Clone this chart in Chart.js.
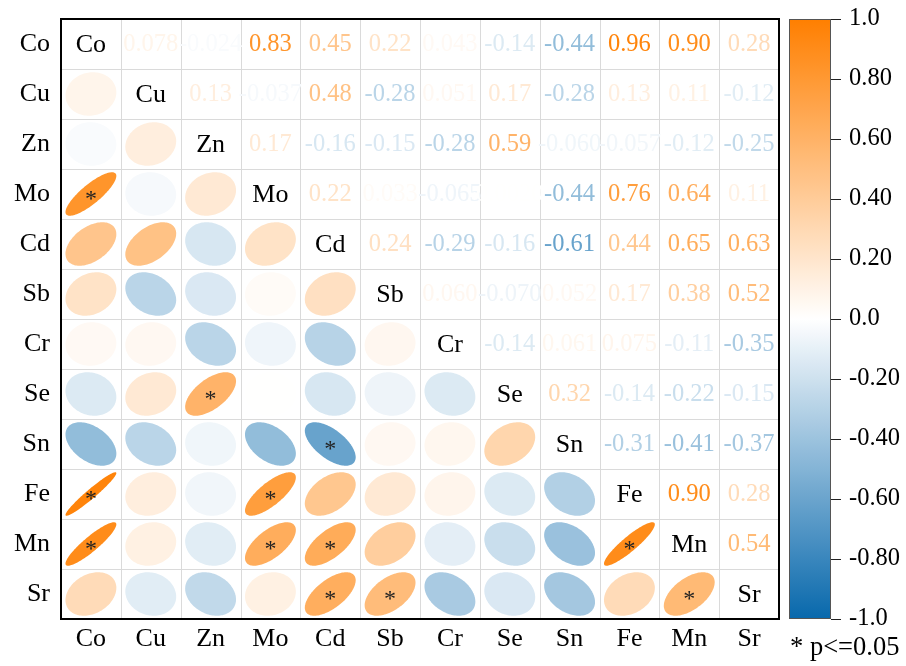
<!DOCTYPE html>
<html><head><meta charset="utf-8">
<script src="https://cdn.jsdelivr.net/npm/chart.js@4/dist/chart.umd.min.js"></script>
<style>html,body{margin:0;padding:0;background:#fff}</style>
</head><body>
<canvas id="c" width="906" height="666"></canvas>
<script>
// ---- data ----
const labels = ['Co','Cu','Zn','Mo','Cd','Sb','Cr','Se','Sn','Fe','Mn','Sr'];
// upper-triangle correlations, row by row (columns after the diagonal)
const rowCo = [0.078, -0.024, 0.83, 0.45, 0.22, 0.043, -0.14, -0.44, 0.96, 0.90, 0.28];
const rowCu = [0.13, -0.037, 0.48, -0.28, 0.051, 0.17, -0.28, 0.13, 0.11, -0.12];
const rowZn = [0.17, -0.16, -0.15, -0.28, 0.59, -0.060, -0.057, -0.12, -0.25];
const rowMo = [0.22, 0.033, -0.065, 0.002, -0.44, 0.76, 0.64, 0.11];
const rowCd = [0.24, -0.29, -0.16, -0.61, 0.44, 0.65, 0.63];
const rowSb = [0.060, -0.070, 0.052, 0.17, 0.38, 0.52];
const rowCr = [-0.14, 0.061, 0.075, -0.11, -0.35];
const rowSe = [0.32, -0.14, -0.22, -0.15];
const rowSn = [-0.31, -0.41, -0.37];
const rowFe = [0.90, 0.28];
const rowMn = [0.54];
const upperRows = [rowCo, rowCu, rowZn, rowMo, rowCd, rowSb, rowCr, rowSe, rowSn, rowFe, rowMn, []];
// significant pairs (p<=0.05)
const sigPairs = [['Mo','Co'],['Se','Zn'],['Sn','Cd'],['Fe','Co'],['Fe','Mo'],['Mn','Co'],['Mn','Mo'],['Mn','Cd'],['Mn','Fe'],['Sr','Cd'],['Sr','Sb'],['Sr','Mn']];
const colorbarTicks = [1.0, 0.8, 0.6, 0.4, 0.2, 0.0, -0.2, -0.4, -0.6, -0.8, -1.0];
const pNote = '* p<=0.05';

// ---- build datasets ----
const n = labels.length;
function corr(i, j){ if(i===j) return 1; const a=Math.min(i,j), b=Math.max(i,j); return upperRows[a][b-a-1]; }
const isSig = (i,j) => sigPairs.some(p => (labels.indexOf(p[0])===i && labels.indexOf(p[1])===j) || (labels.indexOf(p[0])===j && labels.indexOf(p[1])===i));
const upperData = [], lowerData = [], diagData = [];
for(let i=0;i<n;i++){ for(let j=0;j<n;j++){
  if(j>i) upperData.push({x:j, y:i, v:corr(i,j)});
  else if(j<i) lowerData.push({x:j, y:i, v:corr(i,j), sig:isSig(i,j)});
  else diagData.push({x:j, y:i, lab:labels[i]});
}}

const POS=[255,127,0], NEG=[8,104,172];
function colorFor(v){
  const t=Math.min(1,Math.abs(v)); const c=v>=0?POS:NEG;
  const m=k=>Math.round(255+(c[k]-255)*t);
  return `rgb(${m(0)},${m(1)},${m(2)})`;
}
function fmt(v){ return v.toPrecision(2); }
const SERIF = '"Liberation Serif", "DejaVu Serif", serif';

const corrPlugin = {
  id:'corr',
  beforeDatasetsDraw(chart){
    const {ctx, chartArea:a, scales:{x,y}} = chart;
    ctx.save(); ctx.strokeStyle='#dadada'; ctx.lineWidth=1;
    for(let k=1;k<n;k++){
      const px=Math.round(x.getPixelForValue(k-0.5))+0.5;
      ctx.beginPath(); ctx.moveTo(px,a.top); ctx.lineTo(px,a.bottom); ctx.stroke();
      const py=Math.round(y.getPixelForValue(k-0.5))+0.5;
      ctx.beginPath(); ctx.moveTo(a.left,py); ctx.lineTo(a.right,py); ctx.stroke();
    }
    ctx.restore();
  },
  afterDatasetsDraw(chart){
    const {ctx, chartArea:a, scales:{x,y,cb}} = chart;
    const cw=Math.abs(x.getPixelForValue(1)-x.getPixelForValue(0));
    const ch=Math.abs(y.getPixelForValue(1)-y.getPixelForValue(0));
    ctx.save();
    // ellipses
    const lowMeta=chart.getDatasetMeta(1);
    lowMeta.data.forEach((el,idx)=>{
      const d=lowerData[idx]; const r=Math.max(-1,Math.min(1,d.v));
      const ang=Math.acos(r); const w=cw*0.85, h=ch*0.87;
      ctx.beginPath();
      for(let s=0;s<=120;s++){
        const k=s/120*2*Math.PI;
        const px=el.x+Math.cos(k+ang/2)/2*w, py=el.y-Math.cos(k-ang/2)/2*h;
        s?ctx.lineTo(px,py):ctx.moveTo(px,py);
      }
      ctx.closePath(); ctx.fillStyle=colorFor(d.v); ctx.fill();
      if(d.sig){
        ctx.fillStyle='#222'; ctx.font='24px '+SERIF; ctx.textAlign='center'; ctx.textBaseline='middle';
        ctx.fillText('*', el.x, el.y+6);
      }
    });
    // numbers
    const upMeta=chart.getDatasetMeta(0);
    ctx.font='24.5px '+SERIF; ctx.textAlign='center'; ctx.textBaseline='middle';
    upMeta.data.forEach((el,idx)=>{
      const d=upperData[idx]; ctx.fillStyle=colorFor(d.v); ctx.fillText(fmt(d.v), el.x, el.y+1);
    });
    // diagonal labels
    const dMeta=chart.getDatasetMeta(2);
    ctx.font='26px '+SERIF; ctx.fillStyle='#000';
    dMeta.data.forEach((el,idx)=>{ ctx.fillText(diagData[idx].lab, el.x, el.y+1); });
    // border
    ctx.strokeStyle='#000'; ctx.lineWidth=2;
    ctx.strokeRect(a.left, a.top, a.right-a.left, a.bottom-a.top);
    // colorbar
    const bx0=cb.left+10, bx1=cb.left+52;
    const top=cb.getPixelForValue(1), bot=cb.getPixelForValue(-1);
    const g=ctx.createLinearGradient(0,top,0,bot);
    for(let s=0;s<=40;s++){ const v=1-s/20; g.addColorStop(s/40, colorFor(v)); }
    ctx.fillStyle=g; ctx.fillRect(bx0, top, bx1-bx0, bot-top);
    ctx.strokeStyle='#555'; ctx.lineWidth=1;
    ctx.strokeRect(bx0+0.5, top+0.5, bx1-bx0-1, bot-top-1);
    ctx.strokeStyle='#222';
    colorbarTicks.forEach(v=>{
      const py=Math.round(cb.getPixelForValue(v))+0.5;
      ctx.beginPath(); ctx.moveTo(bx1,py); ctx.lineTo(bx1+10,py); ctx.stroke();
    });
    // p note
    ctx.fillStyle='#000'; ctx.font='26.5px '+SERIF; ctx.textAlign='left'; ctx.textBaseline='alphabetic';
    ctx.fillText(pNote, 790, 655);
    ctx.restore();
  }
};

const tickFont={family:SERIF, size:26};
const noPadV = s=>{ s.paddingTop=0; s.paddingBottom=0; };
new Chart(document.getElementById('c'), {
  type:'scatter',
  data:{datasets:[
    {data:upperData, pointRadius:0, pointHoverRadius:0},
    {data:lowerData, pointRadius:0, pointHoverRadius:0},
    {data:diagData, pointRadius:0, pointHoverRadius:0}
  ]},
  options:{
    responsive:false, devicePixelRatio:1, animation:false, events:[],
    layout:{padding:{top:19,left:0,right:0,bottom:0}},
    plugins:{legend:{display:false}, tooltip:{enabled:false}},
    scales:{
      x:{type:'linear', position:'bottom', min:-0.5, max:n-0.5,
        grid:{display:false, drawTicks:false}, border:{display:false},
        afterBuildTicks:s=>{ s.ticks=labels.map((_,i)=>({value:i})); },
        afterFit:s=>{ s.height=47; s.paddingLeft=0; s.paddingRight=0; },
        ticks:{autoSkip:false, maxRotation:0, padding:5, color:'#000', font:tickFont, callback:v=>labels[v]}},
      y:{type:'linear', position:'left', reverse:true, min:-0.5, max:n-0.5,
        grid:{display:false, drawTicks:false}, border:{display:false},
        afterBuildTicks:s=>{ s.ticks=labels.map((_,i)=>({value:i})); },
        afterFit:s=>{ s.width=61; noPadV(s); },
        ticks:{autoSkip:false, padding:11, color:'#000', font:tickFont, callback:v=>labels[v]}},
      cb:{type:'linear', position:'right', min:-1, max:1,
        grid:{display:false, drawTicks:false}, border:{display:false},
        afterBuildTicks:s=>{ s.ticks=colorbarTicks.map(v=>({value:v})); },
        afterFit:s=>{ s.width=127; noPadV(s); },
        ticks:{autoSkip:false, padding:70, color:'#000', font:{family:SERIF, size:24.5},
          callback:v=>{ const r=Math.round(v*10)/10; return (Math.abs(r)===1||r===0)?(r===0?'0.0':r.toFixed(1)):r.toFixed(2); }}}
    }
  },
  plugins:[corrPlugin]
});
</script>
</body></html>
